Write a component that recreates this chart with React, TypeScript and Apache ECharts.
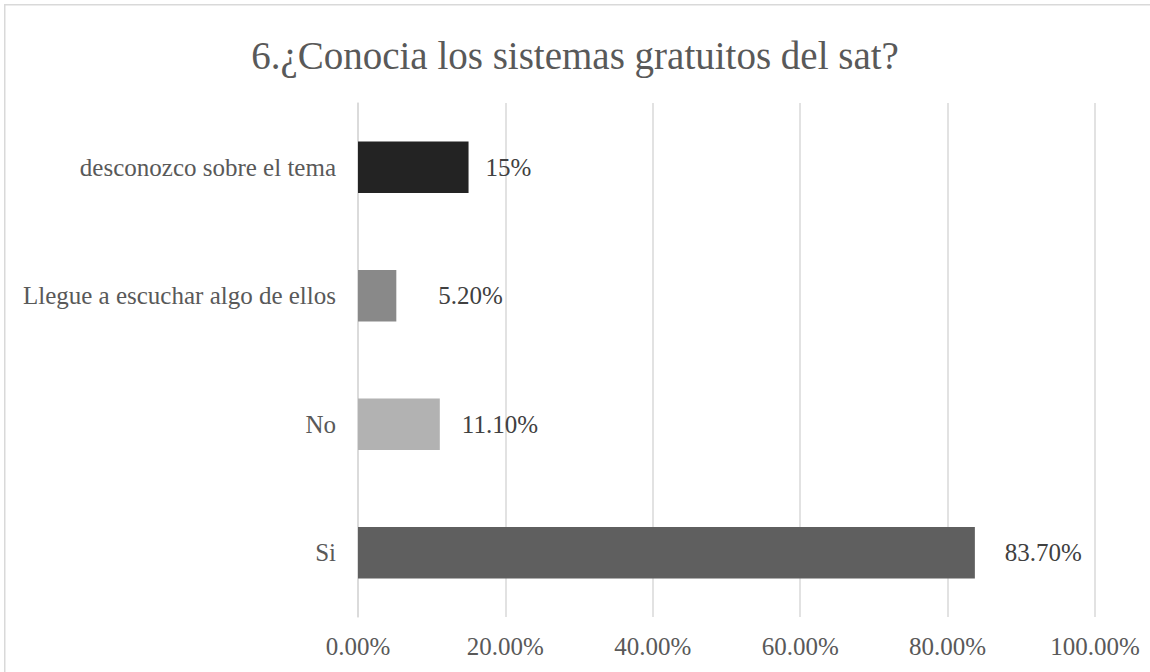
import React, { useEffect, useRef } from "react";
import * as echarts from "echarts";

const categories = [
  "Si",
  "No",
  "Llegue a escuchar algo de ellos",
  "desconozco sobre el tema",
];
const values = [0.837, 0.111, 0.052, 0.15];
const valueLabels = ["83.70%", "11.10%", "5.20%", "15%"];
const barColors = ["#5f5f5f", "#b2b2b2", "#898989", "#232323"];
const labelGaps = [30, 22, 42, 17];
const titleText = "6.¿Conocia los sistemas gratuitos del sat?";

const FONT = "Liberation Serif";

export default function App() {
  const ref = useRef<HTMLDivElement>(null);
  useEffect(() => {
    if (!ref.current) return;
    const chart = echarts.init(ref.current, null, { renderer: "svg" });
    chart.setOption({
      animation: false,
      backgroundColor: "#ffffff",
      title: {
        text: titleText,
        left: "center",
        top: 31,
        textStyle: {
          fontFamily: FONT,
          fontSize: 39,
          fontWeight: "normal",
          color: "#595959",
        },
      },
      graphic: [
        {
          type: "rect",
          shape: { x: 4.75, y: 4.75, width: 1200, height: 800 },
          style: { fill: "none", stroke: "#d9d9d9", lineWidth: 1.5 },
          silent: true,
        },
      ],
      grid: { left: 358, right: 55, top: 103, bottom: 55, containLabel: false },
      xAxis: {
        type: "value",
        min: 0,
        max: 1,
        interval: 0.2,
        axisLine: { show: false },
        axisTick: { show: false },
        splitLine: { show: true, lineStyle: { color: "#d9d9d9", width: 1.5 } },
        axisLabel: {
          margin: 17,
          fontFamily: FONT,
          fontSize: 25,
          color: "#595959",
          formatter: (v: number) => (v * 100).toFixed(2) + "%",
        },
      },
      yAxis: {
        type: "category",
        data: categories,
        axisLine: { show: true, lineStyle: { color: "#d9d9d9", width: 1.5 } },
        axisTick: { show: false },
        axisLabel: {
          margin: 22,
          fontFamily: FONT,
          fontSize: 25,
          color: "#595959",
        },
      },
      series: [
        {
          type: "bar",
          barCategoryGap: "60%",
          data: values.map((v, i) => ({
            value: v,
            itemStyle: { color: barColors[i] },
            label: {
              show: true,
              position: "right",
              distance: labelGaps[i],
              formatter: valueLabels[i],
              fontFamily: FONT,
              fontSize: 25,
              color: "#404040",
            },
          })),
        },
      ],
    });
    return () => chart.dispose();
  }, []);
  return (
    <div
      ref={ref}
      style={{ position: "absolute", left: 0, top: 0, width: 1150, height: 672 }}
    />
  );
}
